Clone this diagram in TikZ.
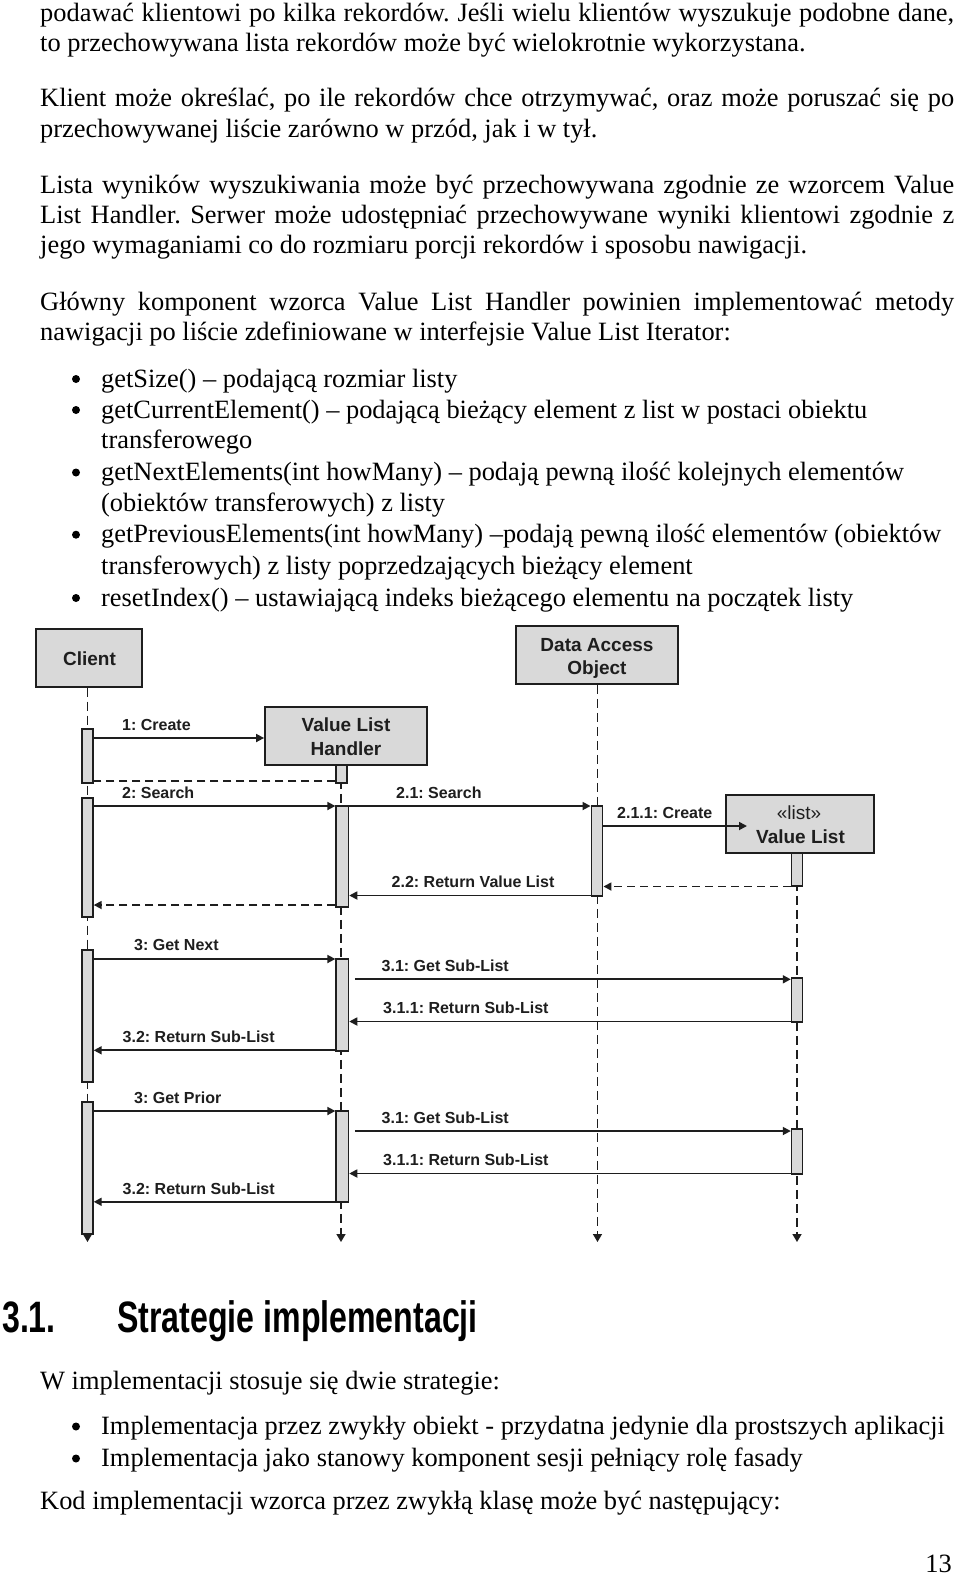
\documentclass[tikz,border=0pt]{standalone}
\usepackage{fontspec}
\usepackage{graphicx}
\setmainfont{Liberation Serif}
\newfontfamily\sansf{Liberation Sans}
\usetikzlibrary{arrows.meta}
\definecolor{ink}{HTML}{1E1E1E}
\definecolor{boxgray}{HTML}{D9D9D9}
\frenchspacing
\newcommand{\bodysize}{\fontsize{26.4}{30}\selectfont\frenchspacing}
\tikzset{
  body/.style={anchor=base west, inner sep=0pt, font=\bodysize, text=black},
  pagenum/.style={anchor=base east, inner sep=0pt, font=\bodysize, text=black},
  head/.style={anchor=base west, inner sep=0pt, font=\sansf\bfseries\fontsize{44}{50}\selectfont},
  obj/.style={draw=ink, line width=1.8pt, fill=boxgray, inner sep=0pt},
  objtxt/.style={anchor=base, inner sep=0pt, font=\sansf\bfseries\fontsize{19}{23}\selectfont, text=ink},
  stereo/.style={anchor=base, inner sep=0pt, font=\sansf\fontsize{19}{23}\selectfont, text=ink},
  act/.style={draw=ink, line width=1.4pt, fill=boxgray, inner sep=0pt, minimum width=11pt},
  life/.style={draw=ink, line width=1.5pt, dash pattern=on 9pt off 5pt, -{Triangle[length=8pt,width=9pt]}},
  msg/.style={draw=ink, line width=1.7pt, -{Triangle[length=8pt,width=8pt]}},
  ret/.style={msg, dash pattern=on 8pt off 5pt},
  lbl/.style={anchor=base west, inner sep=0pt, font=\sansf\bfseries\fontsize{16}{19}\selectfont, text=ink},
  bul/.style={fill=black},
}
\begin{document}
\begin{tikzpicture}[x=1pt,y=-1pt]
\useasboundingbox (0,0) rectangle (960,1575);
\fill[white] (0,0) rectangle (960,1575);

% ---------- top text ----------
\node[body] (p1) at (40,21) {\makebox[914pt][s]{podawać klientowi po kilka rekordów. Jeśli wielu klientów wyszukuje podobne dane,}};
\node[body] (p2) at (40,51.5) {to przechowywana lista rekordów może być wielokrotnie wykorzystana.};
\node[body] (p3) at (40,106.5) {\makebox[914pt][s]{Klient może określać, po ile rekordów chce otrzymywać, oraz może poruszać się po}};
\node[body] (p4) at (40,137) {przechowywanej liście zarówno w przód, jak i w tył.};
\node[body] (p5) at (40,193) {\makebox[914pt][s]{Lista wyników wyszukiwania może być przechowywana zgodnie ze wzorcem Value}};
\node[body] (p6) at (40,223) {\makebox[914pt][s]{List Handler. Serwer może udostępniać przechowywane wyniki klientowi zgodnie z}};
\node[body] (p7) at (40,253) {jego wymaganiami co do rozmiaru porcji rekordów i sposobu nawigacji.};
\node[body] (p8) at (40,310.3) {\makebox[914pt][s]{Główny komponent wzorca Value List Handler powinien implementować metody}};
\node[body] (p9) at (40,340.4) {nawigacji po liście zdefiniowane w interfejsie Value List Iterator:};

\fill[bul] (76,379) circle (4pt);
\node[body] (b1) at (101,387) {getSize() – podającą rozmiar listy};
\fill[bul] (76,410) circle (4pt);
\node[body] (b2) at (101,418) {getCurrentElement() – podającą bieżący element z list w postaci obiektu};
\node[body] (b2b) at (101,448) {transferowego};
\fill[bul] (76,472.5) circle (4pt);
\node[body] (b3) at (101,480.5) {getNextElements(int howMany) – podają pewną ilość kolejnych elementów};
\node[body] (b3b) at (101,511.5) {(obiektów transferowych) z listy};
\fill[bul] (76,534.7) circle (4pt);
\node[body] (b4) at (101,542.7) {getPreviousElements(int howMany) –podają pewną ilość elementów (obiektów};
\node[body] (b4b) at (101,574) {transferowych) z listy poprzedzających bieżący element};
\fill[bul] (76,598) circle (4pt);
\node[body] (b5) at (101,606) {resetIndex() – ustawiającą indeks bieżącego elementu na początek listy};

% ---------- diagram: objects ----------
\node[obj, minimum width=106pt, minimum height=58pt] (client) at (89,657.8) {};
\node[objtxt] (clientT) at (89.5,665) {Client};
\node[obj, minimum width=162pt, minimum height=58pt] (vlh) at (346,736) {};
\node[objtxt] (vlhT1) at (346,731.7) {Value List};
\node[objtxt] (vlhT2) at (346,755) {Handler};
\node[obj, minimum width=162pt, minimum height=58pt] (dao) at (597,655) {};
\node[objtxt] (daoT1) at (597,651) {Data Access};
\node[objtxt] (daoT2) at (597,674) {Object};

% lifeline ends
\coordinate (cEnd) at (87.5,1242);
\coordinate (vEnd) at (341,1242);
\coordinate (dEnd) at (597.5,1242);
\coordinate (lEnd) at (797,1242);

\draw[life] (client.south -| cEnd) -- (cEnd);
\draw[life] (vlh.south -| vEnd) -- (vEnd);
\draw[life] (dao.south -| dEnd) -- (dEnd);

% Value List box
\node[obj, minimum width=148pt, minimum height=58pt] (vl) at (800,824) {};
\node[stereo] (vlT1) at (799,819) {«list»};
\node[objtxt] (vlT2) at (800.5,843) {Value List};
\draw[life] (vl.south -| lEnd) -- (lEnd);

% ---------- activations ----------
\node[act, minimum height=54pt] (c1) at (87.5,756) {};
\node[act, minimum height=119pt] (c2) at (87.5,857.5) {};
\node[act, minimum height=132pt] (c3) at (87.5,1016) {};
\node[act, minimum height=132pt] (c4) at (87.5,1168) {};

\node[act, minimum height=18pt] (v0) at (341.5,774) {};
\node[act, minimum width=12.5pt, minimum height=101pt] (v1) at (342.3,856.5) {};
\node[act, minimum width=12.5pt, minimum height=92pt] (v2) at (342.3,1005) {};
\node[act, minimum width=12.5pt, minimum height=91pt] (v3) at (342.3,1156.5) {};

\node[act, minimum width=11.5pt, minimum height=90pt] (d1) at (597,851) {};

\node[act, minimum height=33pt] (l1) at (797,869.5) {};
\node[act, minimum height=44pt] (l2) at (797,1000) {};
\node[act, minimum height=45pt] (l3) at (797,1151.5) {};

% ---------- messages ----------
\draw[msg] (c1.east |- 0,738) -- (vlh.west |- 0,738);
\node[lbl] (m1) at (122,730) {1: Create};

\draw[ret, -] (v0.west |- 0,781) -- (c1.east |- 0,781);

\draw[msg] (c2.east |- 0,806) -- (v1.west |- 0,806);
\node[lbl] (m2) at (122,798) {2: Search};
\draw[msg] (v1.east |- 0,806) -- (d1.west |- 0,806);
\node[lbl] (m3) at (396,798) {2.1: Search};

\coordinate (vlin) at (747,826);
\draw[msg] (d1.east |- vlin) -- (vlin);
\node[lbl] (m4) at (617,818) {2.1.1: Create};

\draw[ret] (l1.west |- 0,886.5) -- (d1.east |- 0,886.5);
\draw[msg] (d1.west |- 0,895.5) -- (v1.east |- 0,895.5);
\node[lbl] (m5) at (391.5,887.5) {2.2: Return Value List};
\draw[ret] (v1.west |- 0,905) -- (c2.east |- 0,905);

\draw[msg] (c3.east |- 0,959) -- (v2.west |- 0,959);
\node[lbl] (m6) at (134,950.5) {3: Get Next};
\draw[msg] ([xshift=5.5pt]v2.east |- 0,979.3) -- (l2.west |- 0,979.3);
\node[lbl] (m7) at (381.5,971.3) {3.1: Get Sub-List};
\draw[msg] (l2.west |- 0,1021.5) -- (v2.east |- 0,1021.5);
\node[lbl] (m8) at (383,1013.5) {3.1.1: Return Sub-List};
\draw[msg] (v2.west |- 0,1050.3) -- (c3.east |- 0,1050.3);
\node[lbl] (m9) at (122.5,1042.5) {3.2: Return Sub-List};

\draw[msg] (c4.east |- 0,1111) -- (v3.west |- 0,1111);
\node[lbl] (m10) at (134,1103) {3: Get Prior};
\draw[msg] ([xshift=5.5pt]v3.east |- 0,1131) -- (l3.west |- 0,1131);
\node[lbl] (m11) at (381.5,1123) {3.1: Get Sub-List};
\draw[msg] (l3.west |- 0,1173.5) -- (v3.east |- 0,1173.5);
\node[lbl] (m12) at (383,1165.5) {3.1.1: Return Sub-List};
\draw[msg] (v3.west |- 0,1201.8) -- (c4.east |- 0,1201.8);
\node[lbl] (m13) at (122.5,1194) {3.2: Return Sub-List};

% ---------- bottom text ----------
\node[head] (h1) at (2,1332) {\scalebox{0.73}[1]{3.1.}};
\node[head] (h2) at (117,1332) {\scalebox{0.73}[1]{Strategie implementacji}};
\node[body] (q1) at (40,1389.3) {W implementacji stosuje się dwie strategie:};
\fill[bul] (76,1426.5) circle (4pt);
\node[body] (q2) at (101,1434.5) {Implementacja przez zwykły obiekt - przydatna jedynie dla prostszych aplikacji};
\fill[bul] (76,1458.5) circle (4pt);
\node[body] (q3) at (101,1466.5) {Implementacja jako stanowy komponent sesji pełniący rolę fasady};
\node[body] (q4) at (40,1509.5) {Kod implementacji wzorca przez zwykłą klasę może być następujący:};
\node[pagenum] (pn) at (952,1572) {13};
\end{tikzpicture}
\end{document}
